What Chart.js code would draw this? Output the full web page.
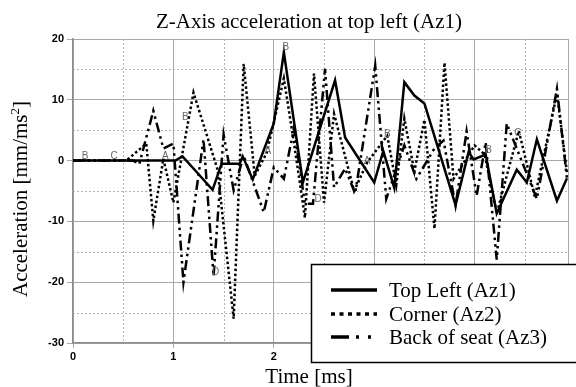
<!DOCTYPE html>
<html>
<head>
<meta charset="utf-8">
<script src="https://cdn.jsdelivr.net/npm/chart.js@4/dist/chart.umd.min.js"></script>
<style>
  html, body { margin: 0; padding: 0; background: #fff; }
  canvas { display: block; }
</style>
</head>
<body>
<canvas id="accChart" width="576" height="387"></canvas>
<script>
// Z-axis acceleration, three sensors

// Top Left (Az1)
const topLeftT = [0, 1.02, 1.09, 1.20, 1.39, 1.48, 1.66, 1.69, 1.79, 2.00, 2.10, 2.29, 2.61, 2.71, 3.00, 3.09, 3.20, 3.30, 3.40, 3.50, 3.81, 3.94, 3.99, 4.11, 4.22, 4.42, 4.52, 4.62, 4.82, 4.92];
const topLeftV = [0, 0, 0.7, -1.3, -4.8, -0.5, -0.5, 0.7, -3.1, 6.1, 17.8, -3.6, 13.2, 3.8, -3.6, 1.6, -4.5, 12.9, 10.7, 9.4, -7.3, 1.4, 0.2, 1.0, -8.7, -1.5, -3.6, 3.5, -6.6, -2.9];

// Corner (Az2)
const cornerT = [0, 0.53, 0.73, 0.80, 0.90, 1.00, 1.20, 1.44, 1.60, 1.70, 1.81, 1.93, 2.10, 2.20, 2.31, 2.40, 2.50, 2.60, 2.80, 2.93, 3.13, 3.22, 3.30, 3.40, 3.50, 3.60, 3.70, 3.79, 4.00, 4.10, 4.22, 4.44, 4.60, 4.82, 4.92];
const cornerV = [0, 0, 2.8, -9.9, 0.3, -6.9, 11.2, -1.5, -26, 15.9, -2.5, 1.3, 13.5, 3.0, -9.4, 14.3, -6.9, 7.7, -5.0, -0.3, 4.1, -4.0, 6.9, -1.8, 6.7, -11.2, 16.1, -3.0, 2.5, 1.0, -8.7, 4.9, -6.0, 11.0, -2.0];

// Back of seat (Az3)
const seatT = [0, 0.60, 0.66, 0.80, 0.90, 1.00, 1.10, 1.30, 1.40, 1.50, 1.60, 1.70, 1.90, 2.00, 2.10, 2.20, 2.31, 2.39, 2.51, 2.60, 2.71, 2.81, 3.01, 3.12, 3.30, 3.42, 3.60, 3.69, 3.81, 3.92, 4.02, 4.11, 4.22, 4.32, 4.62, 4.82, 4.92];
const seatV = [0, 0, -0.6, 8.2, 2.0, 2.8, -20, 3.5, -19, 4.3, -4.9, 0.8, -8.5, -1.1, -3.0, 5.3, -7.1, -7.1, 15.1, -4.4, -1.3, -5.4, 15.6, -6.3, 2.5, -3.0, 2.0, 3.3, -7.4, 4.8, -5.8, 3.0, -16.3, 6.1, -6.3, 11.8, -3.0];

// small letter markers on the traces
const markLetters = ['B', 'C', 'A', 'B', 'D', 'A', 'B', 'D', 'A', 'B', 'B', 'C'];
const markT = [0.12, 0.41, 0.92, 1.12, 1.42, 1.94, 2.12, 2.44, 2.93, 3.13, 4.14, 4.43];
const markV = [0.6, 0.6, 0.6, 6.9, -18.5, 1.3, 18.4, -6.5, -0.3, 4.1, 1.6, 4.4];

const seriesNames = ['Top Left (Az1)', 'Corner (Az2)', 'Back of seat (Az3)'];
const yTicks = [-30, -20, -10, 0, 10, 20];

const dashes = [[], [2.5, 2.5], [10, 4, 2.5, 4, 2.5, 4]];
const legendDashes = [[], [4, 4.5], [18, 7, 3, 9, 3, 20]];

function toPoints(ts, vs) {
    return ts.map((t, i) => ({ x: t, y: vs[i] }));
}

const serif = '"Liberation Serif", "Times New Roman", serif';

// dotted half-step grid
const minorGrid = {
    id: 'minorGrid',
    beforeDatasetsDraw(chart) {
        const { ctx, chartArea: a, scales } = chart;
        ctx.save();
        ctx.strokeStyle = '#b4b4b4';
        ctx.lineWidth = 1;
        ctx.setLineDash([2, 2]);
        for (let t = 0.5; t < scales.x.max; t += 1) {
            const px = Math.round(scales.x.getPixelForValue(t)) + 0.5;
            ctx.beginPath();
            ctx.moveTo(px, a.top);
            ctx.lineTo(px, a.bottom);
            ctx.stroke();
        }
        for (let v = -25; v < 20; v += 10) {
            const py = Math.round(scales.y.getPixelForValue(v)) + 0.5;
            ctx.beginPath();
            ctx.moveTo(a.left, py);
            ctx.lineTo(a.right, py);
            ctx.stroke();
        }
        ctx.restore();
    }
};

// letters, titles and the boxed legend
const decorations = {
    id: 'decorations',
    afterDatasetsDraw(chart) {
        const { ctx, scales } = chart;
        ctx.save();
        ctx.fillStyle = '#666';
        ctx.font = '10px "Liberation Sans", Arial, sans-serif';
        ctx.textAlign = 'center';
        ctx.textBaseline = 'bottom';
        markLetters.forEach((l, i) => {
            ctx.fillText(l, scales.x.getPixelForValue(markT[i]), scales.y.getPixelForValue(markV[i]) + 4);
        });
        ctx.restore();
    },
    afterDraw(chart) {
        const { ctx } = chart;
        ctx.save();
        ctx.fillStyle = '#000';
        ctx.font = '21px ' + serif;
        ctx.textBaseline = 'alphabetic';
        ctx.textAlign = 'center';
        ctx.fillText('Z-Axis acceleration at top left (Az1)', 309, 28);
        ctx.fillText('Time [ms]', 309, 383);

        // y title with superscript
        ctx.save();
        ctx.translate(27, 199);
        ctx.rotate(-Math.PI / 2);
        const main = 'Acceleration [mm/ms';
        const wMain = ctx.measureText(main).width;
        ctx.font = '13px ' + serif;
        const wSup = ctx.measureText('2').width;
        ctx.font = '21px ' + serif;
        const wEnd = ctx.measureText(']').width;
        let x0 = -(wMain + wSup + wEnd) / 2;
        ctx.textAlign = 'left';
        ctx.fillText(main, x0, 0);
        ctx.font = '13px ' + serif;
        ctx.fillText('2', x0 + wMain, -8);
        ctx.font = '21px ' + serif;
        ctx.fillText(']', x0 + wMain + wSup, 0);
        ctx.restore();

        // legend box
        ctx.fillStyle = '#fff';
        ctx.fillRect(311, 264, 270, 99);
        ctx.strokeStyle = '#000';
        ctx.lineWidth = 1.5;
        ctx.strokeRect(311.5, 264.5, 270, 98);
        const rows = [290, 314, 337];
        seriesNames.forEach((name, i) => {
            ctx.beginPath();
            ctx.setLineDash(legendDashes[i]);
            ctx.lineWidth = 3.5;
            ctx.moveTo(331, rows[i]);
            ctx.lineTo(377, rows[i]);
            ctx.stroke();
            ctx.setLineDash([]);
            ctx.fillStyle = '#000';
            ctx.textAlign = 'left';
            ctx.textBaseline = 'middle';
            ctx.font = '21px ' + serif;
            ctx.fillText(name, 389, rows[i] + 1);
        });
        ctx.restore();
    }
};

const tickFont = { family: '"Liberation Sans", Arial, sans-serif', weight: 'bold', size: 11 };

const ctx = document.getElementById('accChart');
const accChart = new Chart(ctx, {
    type: 'line',
    data: {
        datasets: [
            { label: seriesNames[0], data: toPoints(topLeftT, topLeftV), borderDash: dashes[0] },
            { label: seriesNames[1], data: toPoints(cornerT, cornerV), borderDash: dashes[1] },
            { label: seriesNames[2], data: toPoints(seatT, seatV), borderDash: dashes[2] }
        ].map(d => Object.assign(d, {
            borderColor: '#000',
            borderWidth: 2.5,
            pointRadius: 0,
            tension: 0,
            fill: false
        }))
    },
    options: {
        responsive: false,
        animation: false,
        layout: { padding: { top: 39, right: 8, left: 0, bottom: 0 } },
        plugins: {
            legend: { display: false },
            title: { display: false },
            tooltip: { enabled: false }
        },
        scales: {
            x: {
                type: 'linear',
                min: 0,
                max: 4.93,
                ticks: {
                    stepSize: 1,
                    autoSkip: false,
                    maxRotation: 0,
                    padding: 2,
                    color: '#000',
                    font: tickFont,
                    callback: v => Number.isInteger(v) ? v : ''
                },
                grid: { color: '#a8a8a8', lineWidth: 1, tickLength: 5 },
                border: { color: '#8c8c8c', width: 1.5 },
                afterFit: s => { s.height = 44; }
            },
            y: {
                min: -30,
                max: 20,
                afterBuildTicks: s => { s.ticks = yTicks.map(v => ({ value: v })); },
                ticks: { padding: 3, color: '#000', font: tickFont },
                grid: { color: '#a8a8a8', lineWidth: 1, tickLength: 6 },
                border: { color: '#8c8c8c', width: 1.5 },
                afterFit: s => { s.width = 73; }
            }
        }
    },
    plugins: [minorGrid, decorations]
});
</script>
</body>
</html>
